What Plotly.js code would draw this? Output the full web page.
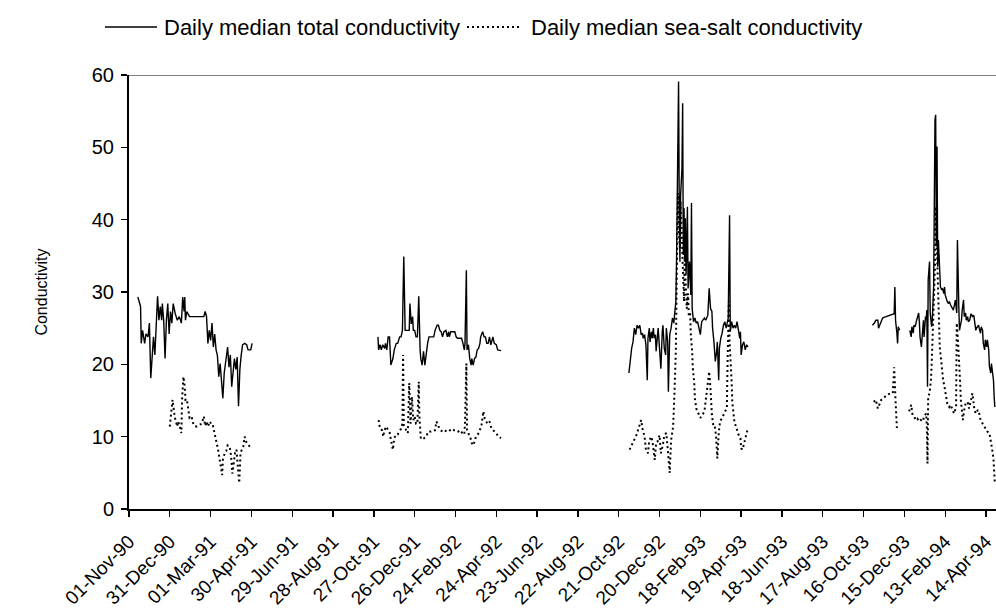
<!DOCTYPE html>
<html><head><meta charset="utf-8">
<script src="https://cdn.plot.ly/plotly-3.0.1.min.js"></script>
<style>html,body{margin:0;padding:0;background:#fff}#chart{width:996px;height:613px}</style>
</head><body><div id="chart"></div>
<script>
// ---------- data ----------
const startDate = '1990-11-01';   // day 0 of the day offsets below
const tickLabels = ['01-Nov-90','31-Dec-90','01-Mar-91','30-Apr-91','29-Jun-91','28-Aug-91','27-Oct-91',
  '26-Dec-91','24-Feb-92','24-Apr-92','23-Jun-92','22-Aug-92','21-Oct-92','20-Dec-92','18-Feb-93',
  '19-Apr-93','18-Jun-93','17-Aug-93','16-Oct-93','15-Dec-93','13-Feb-94','14-Apr-94'];
const yTicks = [0,10,20,30,40,50,60];
const seriesNames = ['Daily median total conductivity','Daily median sea-salt conductivity'];
const yTitle = 'Conductivity';

// Season 1 (Nov 1990 - Apr 1991)
const s1Days  = [13,17,18,20,23,25,28,30,32,34,36,38,40,42,44,46,48,49,51,53,55,57,59,61,63,65,68,71,74,77,79,81,82,83,85,87,89,110,112,114,116,118,120,122,124,126,128,130,132,134,136,138,140,142,143,145,147,149,151,153,155,157,159,161,163,165,167,170,173,175,179,181];
const s1Total = [29.3,28.0,22.9,24.7,22.9,24.2,23.8,25.7,18.1,22.0,23.8,21.3,24.5,29.4,26.1,28.0,26.1,28.4,26.1,20.8,26.1,28.4,24.2,27.3,25.7,28.4,27.0,26.1,26.6,25.7,29.3,27.3,29.3,26.1,27.3,27.0,26.6,26.6,27.3,26.6,22.9,24.7,23.3,25.7,22.4,24.2,22.0,21.2,18.3,20.1,17.4,15.3,18.8,20.6,21.5,22.4,19.6,21.3,16.9,19.3,20.8,19.3,21.0,14.2,19.3,21.3,22.7,22.9,22.7,22.0,22.0,22.9];
const s1SaltDays = [60,64,66,67,71,72,74,77,78,80,82,83,85,87,89,92,95,99,104,107,110,112,114,116,119,121,123,126,128,131,133,135,137,138,141,143,145,148,150,152,154,156,158,160,162,164,168,170,173,176,180];
const s1Salt     = [11.4,15.1,13.7,12.8,11.4,12.1,11.7,10.5,15.1,18.3,16.9,15.1,15.2,13.7,12.6,12.8,11.6,11.4,11.7,11.8,12.8,11.5,12.1,11.4,12.1,11.7,11.7,10.5,9.5,8.2,7.0,5.8,4.7,6.8,7.8,8.0,8.8,8.6,7.4,4.9,6.3,7.8,8.2,5.5,3.6,7.8,8.6,10.0,9.1,8.8,8.4];

// Season 2 (Nov 1991 - May 1992)
const s2Days  = [366,367,369,371,373,376,377,379,381,383,385,388,390,393,395,398,400,402,404,406,409,412,413,415,417,418,420,422,424,426,428,429,431,433,435,437,439,441,444,448,450,453,455,457,459,461,463,466,468,470,471,473,476,479,481,483,486,489,491,493,494,496,497,499,501,503,504,506,508,510,512,514,516,517,520,522,524,526,528,530,532,535,537,540,542,545,547];
const s2Total = [23.8,22.0,22.7,22.0,22.7,22.2,22.9,22.0,23.8,23.8,19.9,20.8,22.0,22.9,22.9,23.8,23.8,24.7,34.9,24.7,24.7,24.7,28.4,25.6,26.6,24.7,24.7,23.8,23.8,29.4,22.0,20.8,19.9,21.8,19.9,21.8,22.9,23.8,23.8,23.8,24.7,25.4,25.4,24.7,24.5,23.8,24.5,24.7,23.8,24.5,23.8,24.5,24.5,24.5,23.8,23.6,23.6,23.6,22.9,22.0,22.9,33.0,22.0,22.7,20.8,19.9,20.8,19.9,20.8,21.0,22.0,22.2,22.9,23.8,24.5,23.8,23.8,22.9,22.9,23.8,22.7,23.8,22.9,22.7,22.0,22.0,21.9];
const s2SaltDays = [367,369,372,374,375,378,380,383,385,388,390,393,395,398,400,402,403,404,406,408,410,412,414,416,418,420,422,424,426,427,429,432,434,437,440,444,447,450,452,455,458,461,464,467,470,472,475,478,481,484,487,490,493,494,496,497,499,502,504,506,508,510,513,516,518,521,523,525,527,530,532,535,537,540,543,547];
const s2Salt     = [12.3,11.1,10.9,10.0,10.7,11.4,11.1,10.7,9.6,8.2,9.8,10.3,10.3,10.9,11.1,11.8,21.3,11.5,11.1,10.9,10.5,17.4,11.8,15.5,12.3,12.8,11.8,11.8,17.6,12.8,9.8,10.0,9.8,10.0,10.7,10.7,10.9,10.9,12.1,11.4,10.9,10.7,10.9,10.7,10.7,10.9,11.1,10.9,10.9,10.7,10.9,10.5,10.3,11.8,20.1,10.9,10.5,9.8,9.1,8.8,9.3,10.0,10.3,10.9,11.4,13.5,12.5,12.1,11.8,12.1,11.4,10.9,10.7,10.5,10.0,9.8];

// Season 3 (Nov 1992 - Apr 1993)
const s3Days  = [735,737,739,741,743,745,747,749,751,753,755,756,758,760,762,763,765,766,768,769,771,772,774,775,777,778,780,782,784,785,787,789,790,792,793,795,797,799,801,802,804,805,806,808,809,810,811,812,813,814,815,816,817,818,819,820,821,822,824,826,827,828,830,832,834,836,838,840,842,844,846,848,849,851,853,855,857,858,860,862,864,865,867,868,870,872,874,876,878,881,883,884,886,888,890,892,894,896,898,899,900,902,904,906,908,910];
const s3Total = [18.8,20.8,22.2,23.1,25.0,24.1,25.4,25.0,25.4,24.1,24.3,23.6,24.1,22.7,17.8,23.6,25.0,23.1,24.5,23.6,25.0,23.6,24.1,21.8,24.1,25.0,22.2,19.4,24.5,25.4,22.2,21.3,25.0,23.1,16.2,24.1,25.0,26.4,25.7,26.8,28.7,34.2,43.0,59.1,41.6,34.2,43.4,44.8,47.1,56.1,35.1,41.6,34.2,40.2,32.4,36.0,41.8,30.5,34.2,29.6,42.3,27.7,25.9,26.4,25.7,25.9,25.0,24.1,25.9,26.1,26.4,26.1,26.4,26.8,30.5,27.7,27.3,25.0,23.1,20.4,21.8,23.1,17.8,22.2,23.6,24.3,25.4,25.9,25.0,26.4,40.6,24.5,25.9,25.0,25.4,25.0,25.9,25.0,23.6,24.5,21.3,22.7,23.1,22.0,22.7,22.4];
const s3SaltDays = [736,742,746,750,753,755,758,760,763,765,768,770,773,775,777,780,782,785,787,790,792,795,797,800,802,804,805,807,808,810,811,813,814,816,817,819,820,822,823,825,826,828,829,831,832,834,837,840,843,846,849,853,855,857,859,861,863,865,867,869,872,874,877,879,880,882,883,885,886,887,888,890,893,896,899,900,902,905,907,910];
const s3Salt     = [8.2,9.3,10.2,11.4,12.3,11.1,10.0,8.2,7.7,9.5,10.0,9.1,6.8,9.1,9.3,10.2,7.7,8.9,10.2,10.5,7.7,5.0,9.5,11.4,16.0,22.0,29.8,43.7,38.8,36.0,42.5,37.0,31.4,28.7,34.8,31.0,27.7,29.8,26.8,27.1,24.1,21.8,19.4,17.6,15.3,13.9,13.3,12.6,13.0,13.5,15.8,19.0,16.5,13.0,11.6,11.6,10.2,7.0,10.5,12.1,12.6,13.0,13.5,14.0,20.0,28.8,23.1,20.0,17.6,14.8,14.0,12.1,11.2,10.3,9.8,8.4,8.2,9.3,10.2,11.2];

// Season 4 (Nov 1993 - Apr 1994), with a break in January
const s4Days  = [1093,1096,1098,1101,1102,1104,1106,1108,1110,1113,1115,1118,1120,1123,1125,1126,1127,1129,1130,1131,1133,1140,1148,1150,1151,1153,1154,1156,1158,1159,1161,1162,1163,1165,1166,1168,1169,1171,1172,1173,1174,1175,1177,1178,1180,1181,1183,1184,1185,1186,1187,1188,1189,1190,1191,1192,1193,1195,1196,1198,1199,1200,1202,1203,1205,1206,1208,1209,1211,1212,1214,1215,1217,1218,1220,1221,1222,1224,1225,1227,1228,1230,1231,1233,1234,1236,1238,1240,1242,1243,1245,1246,1247,1249,1250,1252,1253,1255,1256,1258,1259,1261,1262,1264,1265,1267,1268,1270,1271,1272,1273];
const s4Total = [25.4,25.7,26.1,26.1,25.0,25.4,25.9,26.4,26.5,26.6,26.7,26.8,26.8,27.0,27.0,30.7,26.1,24.3,22.9,25.2,24.7,null,24.7,23.8,25.2,24.3,25.4,25.2,26.1,26.6,27.1,25.9,23.8,22.4,24.3,26.1,23.8,26.6,26.1,27.5,16.9,31.7,34.2,27.1,25.2,26.1,30.7,52.9,53.8,54.5,36.3,50.1,33.5,37.2,34.4,31.7,30.7,30.3,30.5,29.8,30.7,29.6,28.9,28.7,28.4,28.7,28.2,28.0,27.7,27.5,28.4,28.9,27.1,37.2,28.0,24.7,25.2,26.1,27.5,28.9,26.6,27.1,26.1,26.6,25.9,26.1,27.0,26.6,26.8,25.7,24.7,25.0,25.2,25.4,25.0,24.3,25.2,24.7,22.9,22.0,23.4,22.4,23.4,22.0,19.7,18.8,20.1,18.8,17.8,15.5,14.1];
const s4SaltDays = [1095,1098,1101,1103,1106,1115,1120,1123,1125,1127,1129,1140,1147,1150,1152,1154,1157,1159,1162,1164,1167,1169,1172,1173,1174,1175,1177,1179,1180,1181,1182,1183,1184,1185,1186,1187,1188,1189,1190,1191,1192,1194,1195,1197,1199,1201,1203,1206,1208,1211,1213,1216,1217,1219,1220,1222,1223,1225,1226,1228,1230,1233,1235,1238,1240,1243,1245,1248,1250,1252,1255,1257,1260,1262,1265,1267,1269,1270,1271,1272,1273];
const s4Salt     = [14.8,15.1,13.9,14.4,15.1,15.8,16.0,16.0,19.6,15.0,11.2,null,13.5,14.4,13.0,12.8,12.3,12.5,12.1,12.3,12.1,12.8,13.2,11.4,6.3,15.5,16.0,17.8,19.7,22.4,25.2,28.0,29.8,33.5,41.8,38.1,33.5,30.7,27.0,24.3,22.4,20.6,19.2,17.8,16.9,15.5,14.6,14.1,14.4,13.7,13.2,14.1,25.7,22.9,20.1,17.4,15.1,13.7,12.3,13.7,14.6,14.8,13.9,15.1,16.0,13.7,13.2,13.7,13.2,12.3,11.8,11.4,10.9,10.7,10.5,9.5,8.6,7.7,6.8,5.4,3.6];

// ---------- helpers ----------
const MONTHS = {Jan:0,Feb:1,Mar:2,Apr:3,May:4,Jun:5,Jul:6,Aug:7,Sep:8,Oct:9,Nov:10,Dec:11};
const base = Date.parse(startDate + 'T00:00:00Z');
const dayToDate = d => new Date(base + d * 86400000).toISOString().slice(0, 10);
function labelToDate(s) {
  const p = s.split('-');
  return new Date(Date.UTC(1900 + Number(p[2]), MONTHS[p[1]], Number(p[0]))).toISOString().slice(0, 10);
}
function joinSeasons(seasons) {
  const x = [], y = [];
  seasons.forEach((s, i) => {
    if (i > 0) { x.push(dayToDate(s[0][0] - 1)); y.push(null); }
    s[0].forEach((d, j) => { x.push(dayToDate(d)); y.push(s[1][j]); });
  });
  return {x, y};
}
const total = joinSeasons([[s1Days,s1Total],[s2Days,s2Total],[s3Days,s3Total],[s4Days,s4Total]]);
const salt  = joinSeasons([[s1SaltDays,s1Salt],[s2SaltDays,s2Salt],[s3SaltDays,s3Salt],[s4SaltDays,s4Salt]]);

// ---------- chart ----------
const FONT = 'Liberation Sans, Arial, sans-serif';
const DOT = '2px,3px';
const traces = [
  {x: total.x, y: total.y, name: seriesNames[0], type: 'scatter', mode: 'lines',
   line: {color: '#000', width: 1.4}, connectgaps: false, showlegend: false},
  {x: salt.x, y: salt.y, name: seriesNames[1], type: 'scatter', mode: 'lines',
   line: {color: '#000', width: 2, dash: DOT}, connectgaps: false, showlegend: false}
];

const L = 129, R = 996, T = 75, B = 509;
const px = v => (v - L) / (R - L);
const py = v => (B - v) / (B - T);

const layout = {
  width: 996, height: 613,
  margin: {l: L, r: 996 - R, t: T, b: 613 - B},
  paper_bgcolor: '#fff', plot_bgcolor: '#fff',
  font: {family: FONT, color: '#000', size: 19},
  showlegend: false,
  xaxis: {
    type: 'date',
    range: [dayToDate(0), new Date(base + 1274.7 * 86400000).toISOString()],
    tickvals: tickLabels.map(labelToDate), ticktext: tickLabels,
    tickangle: -45, ticks: 'outside', ticklen: 6, tickwidth: 1.3, tickcolor: '#000',
    ticklabelstandoff: 6,
    showline: true, linecolor: '#000', linewidth: 2, showgrid: false, zeroline: false,
    tickfont: {family: FONT, size: 19, color: '#000'}
  },
  yaxis: {
    range: [0, 60], tickvals: yTicks, ticks: 'outside', ticklen: 6, tickwidth: 1.3, tickcolor: '#000',
    ticklabelstandoff: 3,
    showline: true, linecolor: '#000', linewidth: 2, showgrid: false, zeroline: false,
    tickfont: {family: FONT, size: 20, color: '#000'},
    title: {text: yTitle, font: {family: FONT, size: 16, color: '#000'}, standoff: 40}
  },
  shapes: [
    {type: 'line', xref: 'paper', yref: 'y', x0: 0, x1: 1, y0: 60, y1: 60, line: {color: '#808080', width: 2}},
    {type: 'line', xref: 'paper', yref: 'paper', x0: px(105), x1: px(157), y0: py(27), y1: py(27), line: {color: '#000', width: 1.4}},
    {type: 'line', xref: 'paper', yref: 'paper', x0: px(467), x1: px(522), y0: py(27), y1: py(27), line: {color: '#000', width: 2, dash: DOT}}
  ],
  annotations: [
    {xref: 'paper', yref: 'paper', x: px(162), y: py(27), text: seriesNames[0], showarrow: false, xanchor: 'left', yanchor: 'middle', font: {family: FONT, size: 22, color: '#000'}},
    {xref: 'paper', yref: 'paper', x: px(529), y: py(27), text: seriesNames[1], showarrow: false, xanchor: 'left', yanchor: 'middle', font: {family: FONT, size: 22, color: '#000'}}
  ]
};

Plotly.newPlot('chart', traces, layout, {displayModeBar: false, staticPlot: true});
</script>
</body></html>
